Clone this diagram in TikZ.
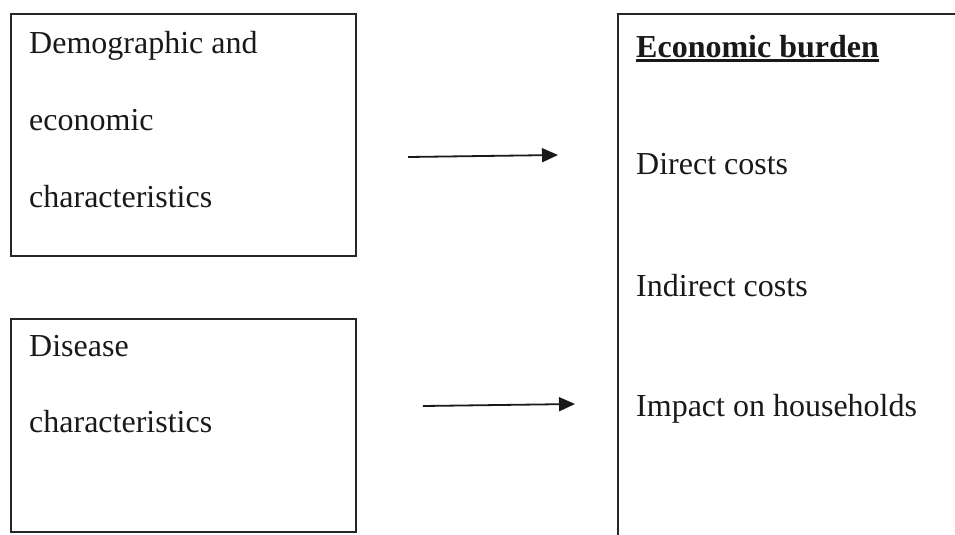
\documentclass[tikz,border=0pt]{standalone}
\usepackage{fontspec}
\setmainfont{Liberation Serif}
\usetikzlibrary{arrows.meta}
\begin{document}
\begin{tikzpicture}[x=1pt,y=-1pt,
  box/.style={draw=black!85,line width=2.2pt,inner sep=0pt,anchor=north west},
  lbl/.style={anchor=base west,inner sep=0pt,text=black!90,font=\fontsize{32}{38}\selectfont},
  conn/.style={draw=black!90,line width=1.8pt,-{Triangle[length=16pt,width=14pt]}}]
\clip (0,0) rectangle (955,535);
\fill[white] (0,0) rectangle (955,535);
% boxes
\node[box,minimum width=345pt,minimum height=242pt] (demo) at (10,13) {};
\node[box,minimum width=345pt,minimum height=213pt] (dis) at (10,318) {};
\node[box,minimum width=400pt,minimum height=560pt] (burden) at (617,13) {};
% left top texts
\node[lbl] (t1) at (29,53) {Demographic and};
\node[lbl] (t2) at (29,130) {economic};
\node[lbl] (t3) at (29,207) {characteristics};
% left bottom texts
\node[lbl] (t4) at (29,356) {Disease};
\node[lbl] (t5) at (29,432) {characteristics};
% right texts
\node[lbl,font=\fontsize{32}{38}\selectfont\bfseries] (eb) at (636,57) {Economic burden};
\draw[line width=3.5pt,black!90] ([yshift=-3.5pt]eb.base west) -- ([yshift=-3.5pt]eb.base east);
\node[lbl] (r1) at (636,174) {Direct costs};
\node[lbl] (r2) at (636,296) {Indirect costs};
\node[lbl] (r3) at (636,416) {Impact on households};
% arrows
\coordinate (a1s) at (408,157);
\coordinate (a1e) at (558,155);
\coordinate (a2s) at (423,406);
\coordinate (a2e) at (575,404);
\draw[conn] (a1s) -- (a1e);
\draw[conn] (a2s) -- (a2e);
\end{tikzpicture}
\end{document}
